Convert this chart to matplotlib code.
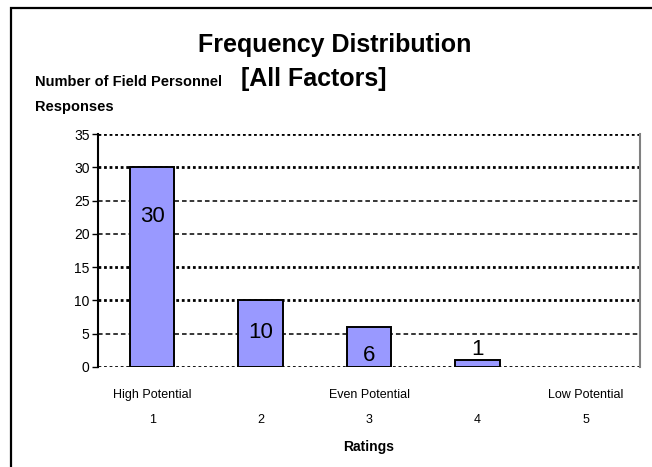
import matplotlib.pyplot as plt
from matplotlib.patches import Rectangle
from matplotlib.transforms import blended_transform_factory

plt.rcParams['font.family'] = ['Liberation Sans', 'DejaVu Sans']

# data
ratings = [1, 2, 3, 4, 5]
responses = [30, 10, 6, 1, 0]
rating_labels = ['1', '2', '3', '4', '5']
anchor_labels = {1: 'High Potential', 3: 'Even Potential', 5: 'Low Potential'}
y_ticks = [0, 5, 10, 15, 20, 25, 30, 35]

W, H = 652, 467
fig = plt.figure(figsize=(W / 100, H / 100), dpi=100)

# outer frame, cut off at right and bottom like the reference
top = 1 - 8 / H
fig.patches.append(Rectangle((11 / W, -0.2), 1.2, top + 0.2, transform=fig.transFigure,
                             fill=False, edgecolor='black', linewidth=1.6))

ax = fig.add_axes([98 / W, 1 - 367 / H, (640 - 98) / W, (367 - 134) / H])
ax.set_xlim(0.5, 5.5)
ax.set_ylim(0, 35)

# gridlines (thick dotted / thin dashed mix as in the picture)
for y in y_ticks:
    if y in (0, 10, 15, 30, 35):
        ax.axhline(y, color='black', linestyle=(0, (1, 1)), linewidth=2.0, zorder=1)
    else:
        ax.axhline(y, color='black', linestyle=(0, (3, 2)), linewidth=1.1, zorder=1)

bars = ax.bar(ratings, responses, width=0.41, color='#9999FF', edgecolor='black',
              linewidth=1.4, zorder=3)
for b, v in zip(bars, responses):
    if v == 0:
        b.set_visible(False)

# value labels
for x, v in zip(ratings, responses):
    if v == 0:
        continue
    if v >= 5:
        ax.text(x, v - 4.8 - 0.13 * (v - 10), str(v), ha='center', va='center',
                fontsize=16, zorder=4)
    else:
        ax.text(x, v + 1.6, str(v), ha='center', va='center', fontsize=16, zorder=4)

ax.set_yticks(y_ticks)
ax.set_yticklabels([str(t) for t in y_ticks], fontsize=10)
ax.set_xticks([])
ax.tick_params(axis='y', length=4, width=1, pad=2)

ax.spines['top'].set_visible(False)
ax.spines['bottom'].set_visible(False)
ax.spines['left'].set_color('black')
ax.spines['left'].set_linewidth(1.5)
ax.spines['right'].set_color('#808080')
ax.spines['right'].set_linewidth(1.5)

trans = blended_transform_factory(ax.transData, ax.transAxes)
for x, lab in zip(ratings, rating_labels):
    ax.text(x, -0.227, lab, transform=trans, ha='center', va='center', fontsize=9)
for x, lab in anchor_labels.items():
    ax.text(x, -0.12, lab, transform=trans, ha='center', va='center', fontsize=9)
ax.text(3, -0.343, 'Ratings', transform=trans, ha='center', va='center',
        fontsize=10, fontweight='bold')

# titles
fig.text(335 / W, 1 - 45 / H, 'Frequency Distribution', ha='center', va='center',
         fontsize=18, fontweight='bold')
fig.text(241 / W, 1 - 86 / H, '[All Factors]', ha='left', va='baseline',
         fontsize=18, fontweight='bold')
fig.text(35 / W, 1 - 86 / H, 'Number of Field Personnel', ha='left', va='baseline',
         fontsize=10.5, fontweight='bold')
fig.text(35 / W, 1 - 111 / H, 'Responses', ha='left', va='baseline',
         fontsize=10.5, fontweight='bold')

fig.savefig('out.png', dpi=100)
